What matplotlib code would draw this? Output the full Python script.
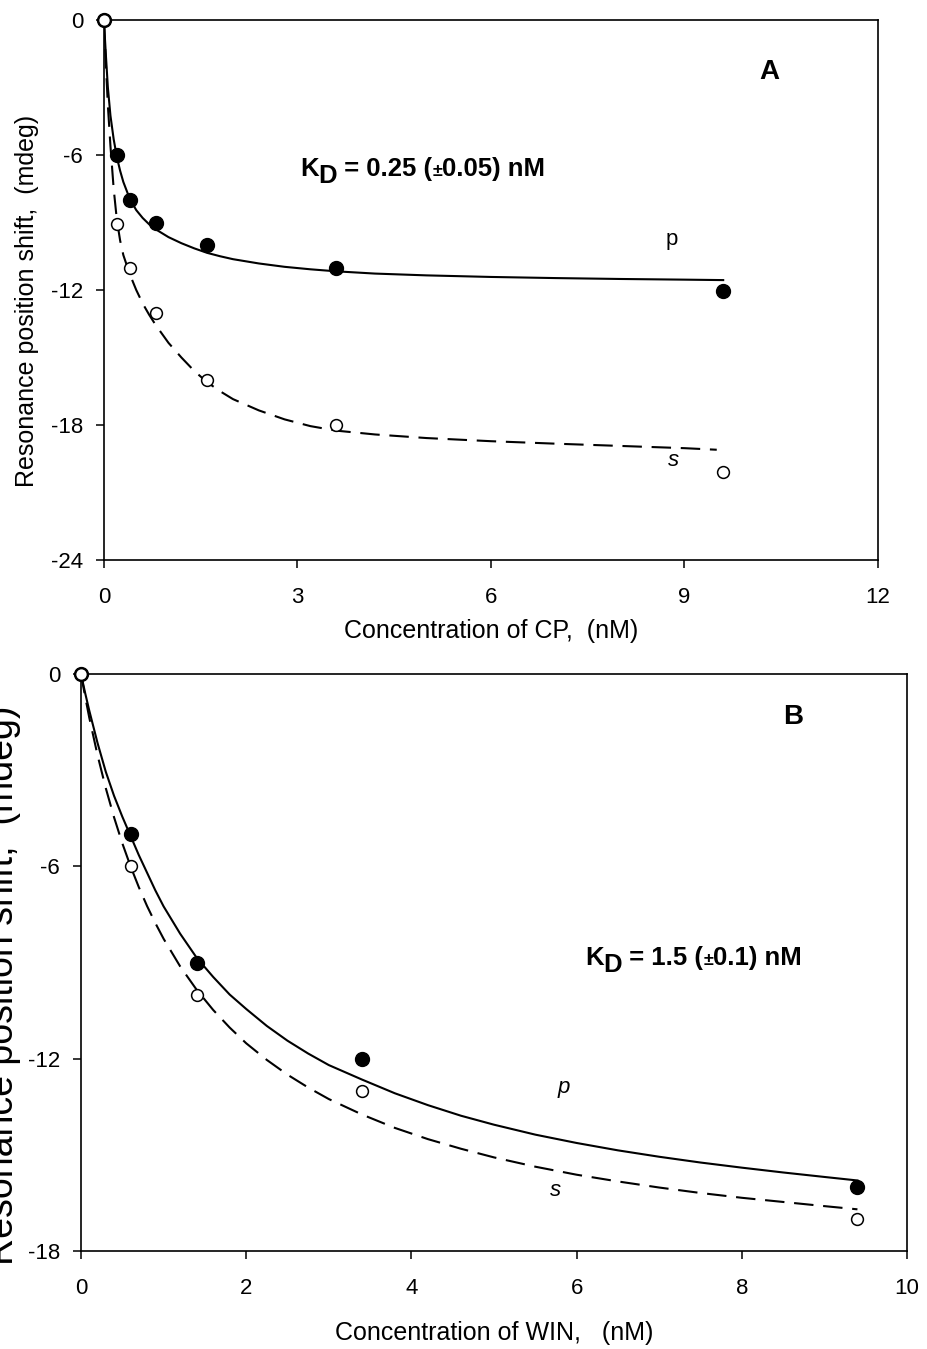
import matplotlib
matplotlib.use("Agg")
import matplotlib.pyplot as plt

plt.rcParams['font.family'] = ['Liberation Sans', 'DejaVu Sans']
plt.rcParams['lines.scale_dashes'] = False
plt.rcParams['axes.unicode_minus'] = False

# ---------------- Panel A data (CP) ----------------
a_x_pts = [0, 0.2, 0.4, 0.8, 1.6, 3.6, 9.6]
a_p_pts = [0, -6.0, -8.0, -9.0, -10.0, -11.0, -12.05]
a_s_pts = [0, -9.05, -11.0, -13.0, -16.0, -18.0, -20.1]

a_p_fit_x = [0, 0.01, 0.03, 0.06, 0.1, 0.15, 0.2, 0.25, 0.3, 0.4, 0.5, 0.6, 0.7, 0.8, 1.0, 1.2, 1.4,
             1.6, 1.8, 2.0, 2.4, 2.8, 3.2, 3.6, 4.2, 5.0, 6.0, 7.0, 8.0, 9.0, 9.6]
a_p_fit_y = [0, -0.6, -1.6, -3.0, -4.25, -5.3, -6.1, -6.7, -7.2, -7.95, -8.45, -8.8, -9.08, -9.3, -9.65,
             -9.92, -10.15, -10.35, -10.5, -10.63, -10.82, -10.97, -11.08, -11.17, -11.27, -11.35,
             -11.42, -11.47, -11.51, -11.54, -11.56]
a_s_fit_x = [0, 0.01, 0.03, 0.06, 0.1, 0.15, 0.2, 0.25, 0.3, 0.4, 0.5, 0.6, 0.7, 0.8, 1.0, 1.2, 1.4,
             1.6, 1.8, 2.0, 2.4, 2.8, 3.2, 3.6, 4.2, 5.0, 6.0, 7.0, 8.0, 9.0, 9.5]
a_s_fit_y = [0, -0.7, -2.0, -3.8, -5.6, -7.5, -8.9, -9.8, -10.45, -11.3, -12.0, -12.6, -13.1, -13.55,
             -14.35, -15.0, -15.6, -16.1, -16.5, -16.85, -17.35, -17.75, -18.05, -18.25, -18.42,
             -18.58, -18.72, -18.83, -18.93, -19.03, -19.1]

a_xticks = [0, 3, 6, 9, 12]
a_yticks = [0, -6, -12, -18, -24]

# ---------------- Panel B data (WIN) ----------------
b_x_pts = [0, 0.6, 1.4, 3.4, 9.4]
b_p_pts = [0, -5.0, -9.0, -12.0, -16.0]
b_s_pts = [0, -6.0, -10.0, -13.0, -17.0]

b_fit_x = [0, 0.05, 0.1, 0.2, 0.3, 0.4, 0.5, 0.6, 0.7, 0.8, 0.9, 1.0, 1.2, 1.4, 1.6, 1.8, 2.0, 2.25,
           2.5, 2.75, 3.0, 3.4, 3.8, 4.2, 4.6, 5.0, 5.5, 6.0, 6.5, 7.0, 7.5, 8.0, 8.5, 9.0, 9.4]
b_p_fit_y = [0, -0.59, -1.14, -2.15, -3.05, -3.8, -4.45, -5.05, -5.65, -6.2, -6.75, -7.25, -8.1,
             -8.85, -9.45, -10.0, -10.45, -10.98, -11.44, -11.84, -12.2, -12.65, -13.08, -13.45,
             -13.78, -14.06, -14.37, -14.63, -14.86, -15.06, -15.24, -15.4, -15.55, -15.69, -15.8]
b_s_fit_y = [0, -0.7, -1.36, -2.53, -3.56, -4.47, -5.28, -6.0, -6.65, -7.24, -7.77, -8.26, -9.12,
             -9.85, -10.48, -11.03, -11.52, -12.04, -12.5, -12.9, -13.26, -13.74, -14.16, -14.51,
             -14.81, -15.08, -15.37, -15.62, -15.83, -16.02, -16.19, -16.34, -16.47, -16.6, -16.7]

b_xticks = [0, 2, 4, 6, 8, 10]
b_yticks = [0, -6, -12, -18]

W, H = 927, 1349
fig = plt.figure(figsize=(W / 100, H / 100), dpi=100)


def px_axes(l, r, t, b):
    return fig.add_axes([l / W, 1 - b / H, (r - l) / W, (b - t) / H])


def style(ax, xlim, ylim, xticks, yticks):
    ax.set_xlim(*xlim)
    ax.set_ylim(*ylim)
    ax.set_xticks(xticks)
    ax.set_yticks(yticks)
    for s in ax.spines.values():
        s.set_linewidth(1.2)
    ax.tick_params(direction='out', length=6, width=1.1, labelsize=16,
                   top=False, right=False)
    ax.tick_params(axis='x', pad=13.5)
    ax.tick_params(axis='y', pad=9)


def chain_text(ax, x, y, pieces, fontsize, weight='bold'):
    """pieces: list of (text, size_factor, dy_points)"""
    prev = None
    for txt, sf, dy in pieces:
        if prev is None:
            prev = ax.text(x, y, txt, transform=ax.transAxes, fontsize=fontsize * sf,
                           fontweight=weight, ha='left', va='baseline')
        else:
            prev = ax.annotate(txt, xy=(1, 0), xycoords=prev, xytext=(0, dy),
                               textcoords='offset points', fontsize=fontsize * sf,
                               fontweight=weight, ha='left', va='bottom')


def draw_series(ax, xp, yp, ys, fx1, fy1, fx2, fy2):
    ax.plot(fx1, fy1, color='black', lw=1.5, solid_joinstyle='round', zorder=3)
    ax.plot(fx2, fy2, color='black', lw=1.5, dashes=(14, 7), zorder=3)
    ax.plot(xp, yp, 'o', color='black', ms=10, clip_on=False, zorder=4)
    ax.plot(xp, ys, 'o', mfc='white', mec='black', mew=1.1, ms=8.5, clip_on=False, zorder=5)


# ---------- Panel A ----------
axA = px_axes(104, 878, 20, 560)
style(axA, (0, 12), (-24, 0), a_xticks, a_yticks)
draw_series(axA, a_x_pts, a_p_pts, a_s_pts, a_p_fit_x, a_p_fit_y, a_s_fit_x, a_s_fit_y)
axA.set_xlabel('Concentration of CP,  (nM)', fontsize=18, labelpad=8)
axA.set_ylabel('Resonance position shift,  (mdeg)', fontsize=18)
axA.yaxis.set_label_coords((39 - 104) / 774, 0.48)
axA.text((769 - 104) / 774, 1 - (72 - 20) / 540, 'A', transform=axA.transAxes,
         fontsize=20, fontweight='bold', ha='center', va='center')
axA.text((672 - 104) / 774, 1 - (239 - 20) / 540, 'p', transform=axA.transAxes,
         fontsize=16, ha='center', va='center')
axA.text((673 - 104) / 774, 1 - (461 - 20) / 540, 's', transform=axA.transAxes,
         fontsize=16, style='italic', ha='center', va='center')
chain_text(axA, (300 - 104) / 774, 1 - (176 - 20) / 540,
           [('K', 1, 0), ('D', 1, -5), (' = 0.25 (', 1, 5), ('±', 0.7, 1), ('0.05) nM', 1, -1)], 18.5)

# ---------- Panel B ----------
axB = px_axes(81, 907, 674, 1251)
style(axB, (0, 10), (-18, 0), b_xticks, b_yticks)
draw_series(axB, b_x_pts, b_p_pts, b_s_pts, b_fit_x, b_p_fit_y, b_fit_x, b_s_fit_y)
axB.set_xlabel('Concentration of WIN,   (nM)', fontsize=18, labelpad=16)
axB.set_ylabel('Resonance position shift,  (mdeg)', fontsize=27)
axB.yaxis.set_label_coords((21 - 81) / 826, 1 - (985 - 674) / 577)
axB.text((793 - 81) / 826, 1 - (717 - 674) / 577, 'B', transform=axB.transAxes,
         fontsize=20, fontweight='bold', ha='center', va='center')
axB.text((564 - 81) / 826, 1 - (1088 - 674) / 577, 'p', transform=axB.transAxes,
         fontsize=16, style='italic', ha='center', va='center')
axB.text((556 - 81) / 826, 1 - (1190 - 674) / 577, 's', transform=axB.transAxes,
         fontsize=16, style='italic', ha='center', va='center')
chain_text(axB, (585 - 81) / 826, 1 - (965 - 674) / 577,
           [('K', 1, 0), ('D', 1, -5), (' = 1.5 (', 1, 5), ('±', 0.7, 1), ('0.1) nM', 1, -1)], 18.5)

fig.savefig('out.png', dpi=100)
